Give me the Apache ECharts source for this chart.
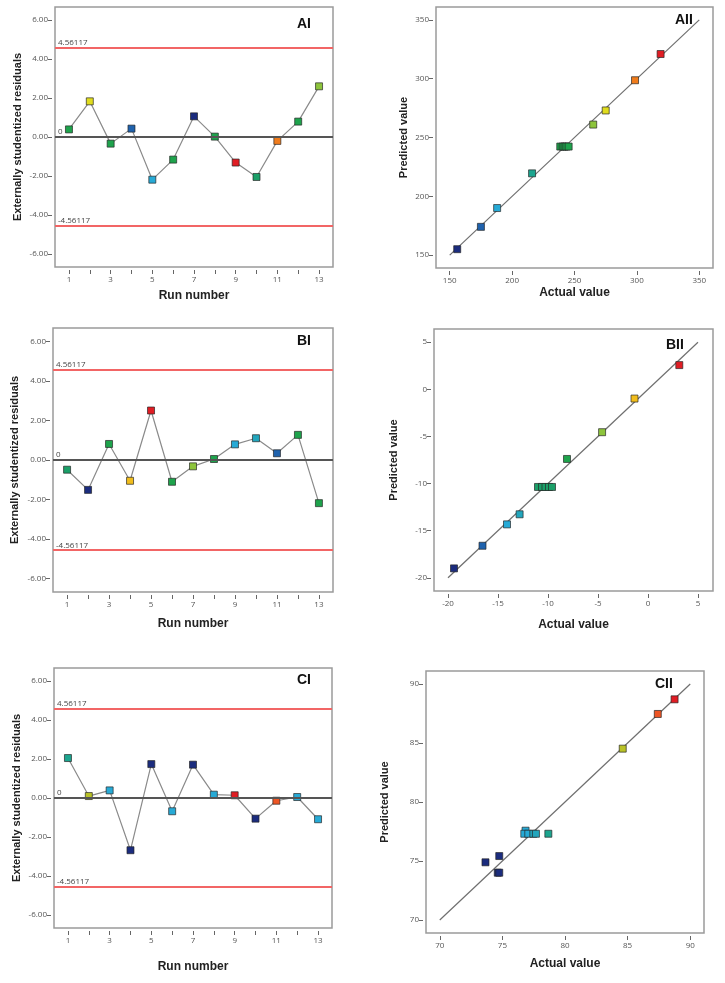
<!DOCTYPE html>
<html><head><meta charset="utf-8">
<script src="https://cdn.jsdelivr.net/npm/echarts@6/dist/echarts.min.js"></script>
<style>html,body{margin:0;padding:0;background:#fff}#c{width:725px;height:983px}</style>
</head><body><div id="c"></div>
<script>
// ---------- DATA ----------
const runs = [1, 2, 3, 4, 5, 6, 7, 8, 9, 10, 11, 12, 13];
const residA = [0.39, 1.83, -0.34, 0.43, -2.19, -1.16, 1.06, 0.02, -1.31, -2.05, -0.20, 0.79, 2.60];
const residB = [-0.49, -1.51, 0.81, -1.05, 2.50, -1.10, -0.32, 0.05, 0.79, 1.10, 0.34, 1.27, -2.18];
const residC = [2.05, 0.10, 0.39, -2.68, 1.74, -0.68, 1.71, 0.17, 0.14, -1.06, -0.14, 0.05, -1.09];
const limitValues = [4.56117, -4.56117];
const limitLabels = ['4.56117', '-4.56117'];

const actualA = [156, 175, 188, 216, 238.6, 240.5, 242, 243.5, 245.3, 265, 275, 298.5, 319];
const predA   = [155, 174, 190, 219.5, 242.3, 242.3, 242.3, 242.3, 242.3, 261, 273, 298.7, 321];
const actualB = [-19.4, -16.55, -14.1, -12.84, -11.0, -10.6, -10.25, -9.9, -9.6, -8.1, -4.59, -1.35, 3.13];
const predB   = [-19.0, -16.6, -14.33, -13.26, -10.36, -10.36, -10.36, -10.36, -10.36, -7.39, -4.55, -0.98, 2.57];
const actualC = [73.65, 74.75, 74.63, 74.75, 76.85, 76.75, 77.07, 77.47, 77.68, 78.67, 84.61, 87.41, 88.75];
const predC   = [74.89, 75.42, 74.01, 74.01, 77.57, 77.31, 77.31, 77.31, 77.31, 77.31, 84.52, 87.46, 88.70];
const fitA = [[150, 150], [350, 350]];
const fitB = [[-20, -20], [5, 5]];
const fitC = [[70, 70], [90, 90]];

// tick labels
const residTicks = [-6, -4, -2, 0, 2, 4, 6];
const runTicks = [1, 2, 3, 4, 5, 6, 7, 8, 9, 10, 11, 12, 13];
const runLabels = [1, 3, 5, 7, 9, 11, 13];
const ticksA = [150, 200, 250, 300, 350];
const ticksB = [-20, -15, -10, -5, 0, 5];
const ticksC = [70, 75, 80, 85, 90];

// ---------- STYLE ----------
const K = {navy:'#1b2c7e', blue:'#1f62ad', cyan:'#27aad6', cyan2:'#22a6bd', teal:'#1ca58f', tealgreen:'#1b9f68',
  green:'#1ea34c', ygreen:'#8dc43c', yellow:'#e0dc1e', gold:'#f1bd1c', orange:'#f07c1c', redorange:'#ee5524',
  red:'#e01d24', olive:'#b9c226'};
const colA1 = [K.green, K.yellow, K.green, K.blue, K.cyan, K.green, K.navy, K.green, K.red, K.tealgreen, K.orange, K.green, K.ygreen];
const colA2 = [K.navy, K.blue, K.cyan, K.teal, K.green, K.green, K.green, K.green, K.green, K.ygreen, K.yellow, K.orange, K.red];
const colB1 = [K.tealgreen, K.navy, K.green, K.gold, K.red, K.green, K.ygreen, K.green, K.cyan, K.cyan2, K.blue, K.green, K.green];
const colB2 = [K.navy, K.blue, K.cyan, K.cyan2, K.tealgreen, K.tealgreen, K.tealgreen, K.tealgreen, K.tealgreen, K.green, K.ygreen, K.gold, K.red];
const colC1 = [K.teal, K.olive, K.cyan, K.navy, K.navy, K.cyan, K.navy, K.cyan, K.red, K.navy, K.redorange, K.cyan, K.cyan];
const colC2 = [K.navy, K.navy, K.navy, K.navy, K.cyan, K.cyan, K.cyan, K.cyan2, K.cyan2, K.teal, K.olive, K.redorange, K.red];

const tickFont = 'Open Sans';
const nameFont = 'Liberation Sans, Arial, sans-serif';

function grid(left, top, width, height) {
  return {left, top, width, height, show:true, borderColor:'#9b9b9b', borderWidth:1.5, backgroundColor:'transparent', containLabel:false};
}
function axis(gi, min, max, tickVals, labelVals, fmt, name, nameGap, isY) {
  return {
    type:'value', gridIndex:gi, min, max, offset:3,
    axisLine:{show:false, onZero:false},
    axisTick:{show:true, length:4, customValues:tickVals, lineStyle:{color:'#666', width:1}},
    axisLabel:{customValues:labelVals, formatter:fmt, fontSize:8, color:'#555', fontFamily:tickFont, margin:isY ? 4 : 6},
    splitLine:{show:false},
    name, nameLocation:'middle', nameGap,
    nameTextStyle:{fontFamily:nameFont, fontWeight:'bold', fontSize:isY ? 11 : 12, color:'#222'}
  };
}
const fmt2 = v => v.toFixed(2);
const fmt0 = v => String(v);

const grids = [
  grid(55, 7, 278, 260), grid(436, 7, 277, 261),
  grid(53, 328, 280, 264), grid(434, 329, 279, 262),
  grid(54, 668, 278, 260), grid(426, 671, 278, 262)
];
const xAxes = [
  axis(0, 0.33, 13.67, runTicks, runLabels, fmt0, 'Run number', 20, false),
  axis(1, 139, 361, ticksA, ticksA, fmt0, 'Actual value', 16, false),
  axis(2, 0.33, 13.67, runTicks, runLabels, fmt0, 'Run number', 23, false),
  axis(3, -21.4, 6.5, ticksB, ticksB, fmt0, 'Actual value', 25, false),
  axis(4, 0.33, 13.67, runTicks, runLabels, fmt0, 'Run number', 30, false),
  axis(5, 68.9, 91.1, ticksC, ticksC, fmt0, 'Actual value', 22, false)
];
const yAxes = [
  axis(0, -6.67, 6.67, residTicks, residTicks, fmt2, 'Externally studentized residuals', 29, true),
  axis(1, 139, 361, ticksA, ticksA, fmt0, 'Predicted value', 24, true),
  axis(2, -6.67, 6.67, residTicks, residTicks, fmt2, 'Externally studentized residuals', 30, true),
  axis(3, -21.4, 6.4, ticksB, ticksB, fmt0, 'Predicted value', 32, true),
  axis(4, -6.67, 6.67, residTicks, residTicks, fmt2, 'Externally studentized residuals', 29, true),
  axis(5, 68.9, 91.1, ticksC, ticksC, fmt0, 'Predicted value', 33, true)
];

const markerStyle = {borderColor:'rgba(35,35,35,0.85)', borderWidth:0.8};
const series = [];
function residualPanel(gi, resid, cols) {
  series.push({
    type:'line', xAxisIndex:gi, yAxisIndex:gi, data:runs.map((r, i) => [r, resid[i]]),
    symbol:'none', lineStyle:{opacity:0}, silent:true, z:1,
    markLine:{
      silent:true, symbol:'none', animation:false,
      data:[
        {yAxis:limitValues[0], lineStyle:{color:'#f26565', width:2, type:'solid'}, label:{formatter:limitLabels[0]}},
        {yAxis:limitValues[1], lineStyle:{color:'#f26565', width:2, type:'solid'}, label:{formatter:limitLabels[1]}},
        {yAxis:0, lineStyle:{color:'#555', width:2, type:'solid'}, label:{formatter:'0'}}
      ],
      label:{position:'insideStartTop', distance:[3, 1], fontSize:8, color:'#444', fontFamily:tickFont}
    }
  });
  series.push({
    type:'line', xAxisIndex:gi, yAxisIndex:gi, z:3,
    data:runs.map((r, i) => ({value:[r, resid[i]], itemStyle:{color:cols[i]}})),
    symbol:'rect', symbolSize:7, showAllSymbol:true,
    lineStyle:{color:'#8a8a8a', width:1.2},
    itemStyle:Object.assign({color:'#888'}, markerStyle)
  });
}
function parityPanel(gi, actual, pred, cols, fit) {
  series.push({
    type:'line', xAxisIndex:gi, yAxisIndex:gi, data:fit, symbol:'none', silent:true, z:1,
    lineStyle:{color:'#6f6f6f', width:1.2}
  });
  series.push({
    type:'scatter', xAxisIndex:gi, yAxisIndex:gi, z:3,
    data:actual.map((a, i) => ({value:[a, pred[i]], itemStyle:{color:cols[i]}})),
    symbol:'rect', symbolSize:7,
    itemStyle:Object.assign({opacity:1}, markerStyle)
  });
}
residualPanel(0, residA, colA1);
parityPanel(1, actualA, predA, colA2, fitA);
residualPanel(2, residB, colB1);
parityPanel(3, actualB, predB, colB2, fitB);
residualPanel(4, residC, colC1);
parityPanel(5, actualC, predC, colC2, fitC);

const titleStyle = {fontFamily:nameFont, fontWeight:'bold', fontSize:14, color:'#111'};
const titles = [
  {text:'AI', left:297, top:17}, {text:'AII', left:675, top:13},
  {text:'BI', left:297, top:334}, {text:'BII', left:666, top:338},
  {text:'CI', left:297, top:673}, {text:'CII', left:655, top:677}
].map(t => Object.assign({padding:0, textStyle:titleStyle}, t));

const chart = echarts.init(document.getElementById('c'), null, {renderer:'canvas'});
chart.setOption({
  animation:false,
  backgroundColor:'#fff',
  title:titles,
  grid:grids,
  xAxis:xAxes,
  yAxis:yAxes,
  series
});
</script></body></html>
